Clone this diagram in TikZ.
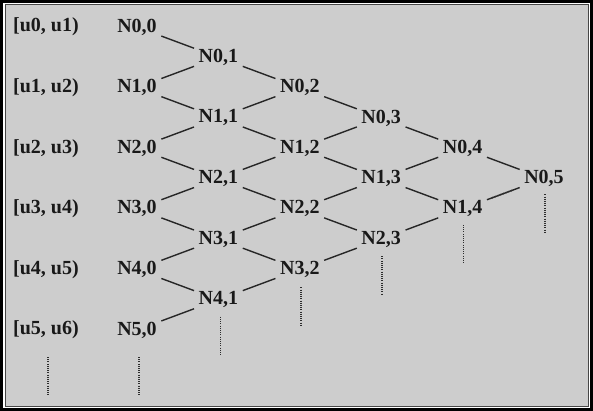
\documentclass[tikz,border=0pt]{standalone}
\usepackage{fontspec}
\setmainfont{Liberation Serif}
\usetikzlibrary{calc}
\definecolor{bggray}{RGB}{205,205,205}
\definecolor{framegray}{RGB}{70,70,70}
\definecolor{dotgray}{RGB}{45,45,45}
\tikzset{
  lab/.style={font=\bfseries\fontsize{20}{22}\selectfont, text=black!90, inner sep=0pt},
  nd/.style={font=\bfseries\fontsize{20}{22}\selectfont, text=black!90, inner sep=0pt},
  edge/.style={line width=1.4pt, black!85, shorten <=26pt, shorten >=26pt},
  dotedge/.style={line width=1.5pt, dotgray, dash pattern=on 1.3pt off 1.6pt},
  vdots/.style={line width=1.5pt, dotgray, dash pattern=on 1pt off 1.2pt}
}
\begin{document}
\begin{tikzpicture}[x=1pt,y=-1pt]
\useasboundingbox (0,0) rectangle (593,411);
% frame and background
\fill[white] (0,0) rectangle (593,411);
\fill[bggray] (5,5) rectangle (588,406);
\draw[framegray, line width=1pt] (5,5) rectangle (588,406);
\draw[black, line width=3pt] (1.5,1.5) rectangle (591.5,409.5);
% interval labels
\foreach \i/\t in {0/{[u0, u1)},1/{[u1, u2)},2/{[u2, u3)},3/{[u3, u4)},4/{[u4, u5)},5/{[u5, u6)}}{
  \node[lab] (L\i) at (46,{27+60.6*\i}) {\t};
}
% nodes N i,j with i+j<=5
\foreach \i in {0,...,5}{
  \pgfmathtruncatemacro{\jmax}{5-\i}
  \foreach \j in {0,...,\jmax}{
    \node[nd] (N\i\j) at ({137+81.4*\j},{27+60.6*\i+30.3*\j}) {N\i,\j};
  }
}
% solid edges
\foreach \i in {0,...,4}{
  \pgfmathtruncatemacro{\jmax}{4-\i}
  \foreach \j in {0,...,\jmax}{
    \pgfmathtruncatemacro{\jn}{\j+1}
    \pgfmathtruncatemacro{\inx}{\i+1}
    \draw[edge] (N\i\j.center) -- (N\i\jn.center);
    \draw[edge] (N\inx\j.center) -- (N\i\jn.center);
  }
}
% dotted partial edge
\coordinate (da) at ($(N14.center)!0.36!(N05.center)$);
\coordinate (db) at ($(N14.center)!0.61!(N05.center)$);
\draw[dotedge] (da) -- (db);
% vertical dotted continuations
\draw[vdots] ([xshift=2pt,yshift=-27pt]L5.center) -- ([xshift=2pt,yshift=-66pt]L5.center);
\draw[vdots] ([xshift=2pt,yshift=-27pt]N50.center) -- ([xshift=2pt,yshift=-66pt]N50.center);
\draw[vdots] ([xshift=2pt,yshift=-17pt]N41.center) -- ([xshift=2pt,yshift=-55pt]N41.center);
\draw[vdots] ([xshift=1pt,yshift=-18pt]N32.center) -- ([xshift=1pt,yshift=-56pt]N32.center);
\draw[vdots] ([xshift=1pt,yshift=-17pt]N23.center) -- ([xshift=1pt,yshift=-55pt]N23.center);
\draw[vdots] ([xshift=1pt,yshift=-16pt]N14.center) -- ([xshift=1pt,yshift=-54pt]N14.center);
\draw[vdots] ([xshift=1pt,yshift=-16pt]N05.center) -- ([xshift=1pt,yshift=-54pt]N05.center);
\end{tikzpicture}
\end{document}
